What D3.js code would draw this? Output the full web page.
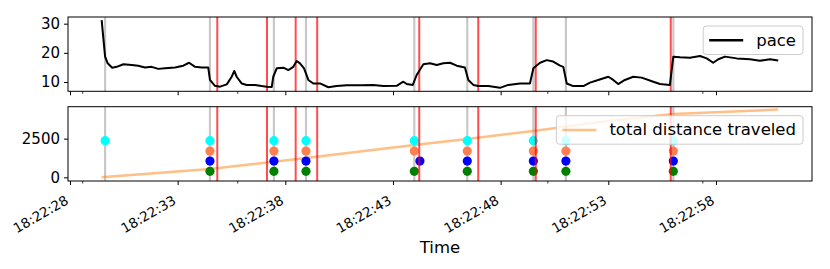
<!DOCTYPE html>
<meta charset="utf-8">
<style>
  body { margin: 0; background: #fff; }
  text { font-family: "DejaVu Sans", sans-serif; fill: #000; }
</style>
<body>
<script src="https://d3js.org/d3.v7.min.js"></script>
<script>

// seconds after 18:22:28, pace values
var paceTimes = [1.47, 1.63, 1.75, 1.96, 2.17, 2.48, 2.87, 3.17, 3.48, 3.79, 4.10, 4.41, 4.88, 5.26, 5.53, 5.81, 6.12, 6.42,
  6.50, 6.73, 6.97, 7.28, 7.51, 7.63, 7.74, 7.97, 8.21, 8.59, 8.90, 9.13, 9.37, 9.44, 9.60, 9.91, 10.14, 10.37, 10.53,
  10.68, 10.87, 11.07, 11.30, 11.61, 12.00, 12.38, 12.85, 13.47, 14.09, 14.55, 15.17, 15.48, 15.64, 15.92, 16.10, 16.41,
  16.72, 17.03, 17.34, 17.65, 17.96, 18.34, 18.50, 18.73, 18.96, 19.43, 19.97, 20.35, 20.90, 21.36, 21.52, 21.83, 22.14,
  22.44, 22.76, 22.91, 23.07, 23.37, 23.84, 24.15, 24.53, 25.00, 25.23, 25.46, 25.77, 26.16, 26.55, 27.09, 27.40, 27.86,
  28.02, 28.33, 28.79, 29.26, 29.57, 29.87, 30.11, 30.42, 30.96, 31.58, 32.04, 32.51, 32.89];
var paceValues = [31.2, 18.7, 16.4, 14.9, 15.2, 16.1, 15.8, 15.6, 15.0, 15.2, 14.5, 14.7, 15.0, 15.6, 16.6, 15.2, 15.0, 15.0,
  10.7, 8.7, 8.4, 9.2, 11.8, 13.8, 11.8, 9.5, 9.0, 9.0, 8.6, 8.4, 8.3, 11.8, 14.7, 14.9, 14.1, 15.2, 17.2,
  16.4, 14.7, 10.7, 9.5, 9.5, 8.2, 8.6, 8.9, 8.9, 9.0, 8.6, 8.7, 10.1, 9.3, 9.0, 12.4, 16.1,
  16.4, 15.8, 16.4, 16.6, 15.6, 15.0, 10.7, 9.0, 8.6, 8.6, 8.0, 9.0, 9.5, 9.5, 14.7, 16.6, 17.5,
  17.0, 15.6, 15.2, 9.5, 8.6, 8.6, 9.8, 10.7, 11.8, 10.7, 9.3, 10.7, 11.8, 11.5, 10.1, 9.3, 9.0,
  18.7, 18.5, 18.3, 18.9, 18.1, 16.6, 17.8, 18.7, 18.1, 17.8, 17.3, 17.8, 17.4];

var distTimes = [1.47, 6.50, 9.47, 10.96, 15.99, 18.45, 21.52, 25.00, 28.02, 32.89];
var distValues = [0, 540, 1010, 1250, 2090, 2480, 3000, 3650, 4100, 4380];

var grayTimes = [1.63, 6.50, 9.47, 10.96, 15.99, 18.45, 21.52, 23.03, 28.02];
var redTimes = [6.84, 9.15, 10.48, 11.48, 16.22, 18.96, 21.63, 27.90];

var cyanTimes = [1.63, 6.50, 9.47, 10.96, 15.99, 18.45, 21.52, 23.03, 28.02];
var coralTimes = [6.50, 9.47, 10.96, 15.99, 18.45, 21.52, 23.03, 28.02];
var blueTimes = [6.50, 9.47, 10.96, 16.25, 18.45, 21.52, 23.03, 28.02];
var greenTimes = [6.50, 9.47, 10.96, 15.99, 18.45, 21.52, 23.03, 28.02];
var markerLevels = {cyan: 2370, coral: 1700, blue: 1050, green: 390};

var majorTicks = [0, 5, 10, 15, 20, 25, 30];
var minorTicks = [0.59, 7.79, 22.19, 29.39];

var t0 = new Date(2020, 0, 1, 18, 22, 28);
function toDate(s) { return new Date(t0.getTime() + s * 1000); }

var width = 830, height = 269;
var left = 68, right = 812;
var top1 = 17, bot1 = 91.3, top2 = 106.7, bot2 = 181;

var svg = d3.select("body").append("svg")
    .attr("width", width)
    .attr("height", height);

var x = d3.scaleTime()
    .domain([toDate(-0.093), toDate(34.46)])
    .range([left, right]);
var y1 = d3.scaleLinear().domain([6.81, 32.29]).range([bot1, top1]);
var y2 = d3.scaleLinear().domain([-237, 4567]).range([bot2, top2]);

var timeFmt = d3.timeFormat("%H:%M:%S");

function vlines(g, times, y, color, opacity, w) {
  g.selectAll(null)
    .data(times)
    .enter().append("line")
      .attr("x1", d => x(toDate(d)))
      .attr("x2", d => x(toDate(d)))
      .attr("y1", y.range()[0])
      .attr("y2", y.range()[1])
      .attr("stroke", color)
      .attr("stroke-opacity", opacity)
      .attr("stroke-width", w);
}

function legend(g, y, label, color, opacity) {
  var lg = g.append("g");
  var box = lg.append("rect");
  var txt = lg.append("text")
      .attr("font-size", "16.5px")
      .attr("dy", "0.35em")
      .text(label);
  var tw = txt.node().getComputedTextLength();
  var bw = tw + 60, bh = 28.5;
  var bx = right - 9 - bw, by = y.range()[1] + 9;
  box.attr("x", bx).attr("y", by).attr("width", bw).attr("height", bh)
      .attr("rx", 3)
      .attr("fill", "#fff").attr("fill-opacity", 0.8)
      .attr("stroke", "#cccccc").attr("stroke-width", 1);
  lg.append("line")
      .attr("x1", bx + 6).attr("x2", bx + 40)
      .attr("y1", by + bh / 2).attr("y2", by + bh / 2)
      .attr("stroke", color).attr("stroke-opacity", opacity)
      .attr("stroke-width", 2.5);
  txt.attr("x", bx + 53).attr("y", by + bh / 2 - 0.5);
}

function xAxisTicks(g, ybase, labels) {
  var ax = g.append("g").attr("transform", "translate(0," + ybase + ")");
  ax.call(d3.axisBottom(x)
      .tickValues(majorTicks.map(toDate))
      .tickSize(4)
      .tickFormat(labels ? timeFmt : ""));
  ax.select(".domain").remove();
  ax.selectAll("line").attr("stroke-width", 1);
  if (labels) {
    ax.selectAll("text")
      .attr("font-size", "13.5px")
      .attr("font-family", "DejaVu Sans")
      .style("text-anchor", "end")
      .attr("x", 0).attr("y", 0).attr("dy", "0.35em")
      .attr("transform", "translate(-3.5,18) rotate(-30)");
  }
  var minor = g.append("g").attr("transform", "translate(0," + ybase + ")");
  minor.selectAll("line")
    .data(minorTicks)
    .enter().append("line")
      .attr("x1", d => x(toDate(d))).attr("x2", d => x(toDate(d)))
      .attr("y1", 0).attr("y2", 2.5)
      .attr("stroke", "#000").attr("stroke-width", 0.8);
}

function yAxis(g, y, ticks) {
  var ax = g.append("g").attr("transform", "translate(" + left + ",0)");
  ax.call(d3.axisLeft(y).tickValues(ticks).tickSize(4).tickPadding(4).tickFormat(d3.format("d")));
  ax.select(".domain").remove();
  ax.selectAll("text").attr("font-size", "15px").attr("font-family", "DejaVu Sans");
}

function frame(g, y) {
  g.append("rect")
    .attr("x", left).attr("y", y.range()[1])
    .attr("width", right - left).attr("height", y.range()[0] - y.range()[1])
    .attr("fill", "none").attr("stroke", "#000").attr("stroke-width", 1);
}

// top panel: pace
var g1 = svg.append("g");
vlines(g1, grayTimes, y1, "#c8c8c8", 1, 2.2);
vlines(g1, redTimes, y1, "#ff0000", 0.7, 2);
var paceLine = d3.line()
    .x(d => x(toDate(d[0])))
    .y(d => y1(d[1]));
g1.append("path")
    .datum(paceTimes.map((t, i) => [t, paceValues[i]]))
    .attr("d", paceLine)
    .attr("fill", "none")
    .attr("stroke", "#000")
    .attr("stroke-width", 2)
    .attr("stroke-linejoin", "round");
frame(g1, y1);
xAxisTicks(g1, bot1, false);
yAxis(g1, y1, [10, 20, 30]);
legend(g1, y1, "pace", "#000", 1);

// bottom panel: distance + markers
var g2 = svg.append("g");
vlines(g2, grayTimes, y2, "#c8c8c8", 1, 2.2);
var distLine = d3.line()
    .x(d => x(toDate(d[0])))
    .y(d => y2(d[1]));
g2.append("path")
    .datum(distTimes.map((t, i) => [t, distValues[i]]))
    .attr("d", distLine)
    .attr("fill", "none")
    .attr("stroke", "#ff7f0e")
    .attr("stroke-opacity", 0.5)
    .attr("stroke-width", 2.5);

var markerSets = [
  {times: cyanTimes, color: "cyan", level: markerLevels.cyan},
  {times: coralTimes, color: "coral", level: markerLevels.coral},
  {times: blueTimes, color: "blue", level: markerLevels.blue},
  {times: greenTimes, color: "green", level: markerLevels.green}
];
markerSets.forEach(function(ms) {
  g2.selectAll(null)
    .data(ms.times)
    .enter().append("circle")
      .attr("cx", d => x(toDate(d)))
      .attr("cy", y2(ms.level))
      .attr("r", 4.6)
      .attr("fill", ms.color);
});
vlines(g2, redTimes, y2, "#ff0000", 0.7, 2);
frame(g2, y2);
xAxisTicks(g2, bot2, true);
yAxis(g2, y2, [0, 2500]);
legend(g2, y2, "total distance traveled", "#ff7f0e", 0.5);

svg.append("text")
    .attr("x", (left + right) / 2)
    .attr("y", 253)
    .attr("text-anchor", "middle")
    .attr("font-size", "16.5px")
    .text("Time");

</script>
</body>
